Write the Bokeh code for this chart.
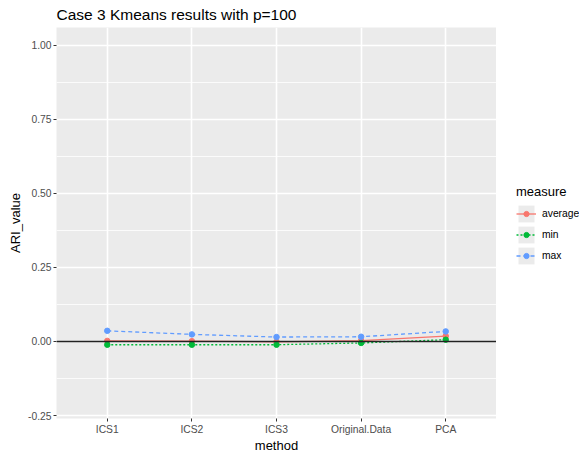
from bokeh.plotting import figure
from bokeh.layouts import row
from bokeh.core.properties import value
from bokeh.models import (FactorRange, Range1d, FixedTicker, NumeralTickFormatter,
                          Span, Legend, LegendItem, ColumnDataSource)
from bokeh.embed import file_html
from bokeh.resources import INLINE

# ARI values per clustering input
methods = ["ICS1", "ICS2", "ICS3", "Original.Data", "PCA"]
ari_average = [0.002, 0.001, -0.001, 0.003, 0.018]
ari_min = [-0.011, -0.011, -0.011, -0.005, 0.006]
ari_max = [0.036, 0.024, 0.015, 0.016, 0.034]
measures = ["average", "min", "max"]
y_ticks = [-0.25, 0.0, 0.25, 0.5, 0.75, 1.0]
y_minor = [-0.125, 0.125, 0.375, 0.625, 0.875]

FONT = "Liberation Sans"
PANEL_BG = "#EBEBEB"

p = figure(width=496, height=455, output_backend="svg", toolbar_location=None,
           x_range=FactorRange(*methods, range_padding=0.1, range_padding_units="absolute"),
           y_range=Range1d(-0.26, 1.06),
           title="Case 3 Kmeans results with p=100",
           min_border_left=56, min_border_right=0, min_border_top=27, min_border_bottom=34)

p.background_fill_color = PANEL_BG
p.border_fill_color = "white"
p.outline_line_color = None

p.title.text_font = FONT
p.title.text_font_size = "15.5px"
p.title.text_font_style = "normal"
p.title.text_color = "black"
p.title.align = "left"
p.title.vertical_align = "top"
p.title.standoff = 6

# grid
p.xgrid.grid_line_color = "white"
p.xgrid.grid_line_width = 1.6
p.ygrid.ticker = FixedTicker(ticks=y_ticks, minor_ticks=y_minor)
p.ygrid.grid_line_color = "white"
p.ygrid.grid_line_width = 1.6
p.ygrid.minor_grid_line_color = "white"
p.ygrid.minor_grid_line_width = 0.8

# axes
p.yaxis.ticker = FixedTicker(ticks=y_ticks)
p.yaxis.formatter = NumeralTickFormatter(format="0.00")
for ax in (p.xaxis[0], p.yaxis[0]):
    ax.axis_line_color = None
    ax.major_tick_line_color = "#333333"
    ax.major_tick_in = 0
    ax.major_tick_out = 3
    ax.minor_tick_line_color = None
    ax.major_label_text_font = FONT
    ax.major_label_text_font_size = "10.3px"
    ax.major_label_text_color = "#4D4D4D"
    ax.major_label_standoff = 2
    ax.axis_label_text_font = FONT
    ax.axis_label_text_font_size = "13px"
    ax.axis_label_text_font_style = "normal"
    ax.axis_label_text_color = "black"
p.xaxis.axis_label = "method"
p.xaxis.axis_label_standoff = 0
p.yaxis.axis_label = "ARI_value"
p.yaxis.axis_label_standoff = 2

# series
colors = {"average": "#F8766D", "min": "#00BA38", "max": "#619CFF"}
dashes = {"average": "solid", "min": "2 2", "max": "4 3"}
values = {"average": ari_average, "min": ari_min, "max": ari_max}

for m in measures:
    src = ColumnDataSource(dict(method=methods, ari=values[m]))
    p.line("method", "ari", source=src, line_color=colors[m], line_width=1.3,
           line_dash=dashes[m])
    p.scatter("method", "ari", source=src, size=5.5, fill_color=colors[m],
              line_color=colors[m])

# reference line at zero
p.add_layout(Span(location=0, dimension="width", line_color="#222222", line_width=1.5))

# legend panel to the right of the plot; key proxies hold a single NaN row
lg = figure(width=83, height=455, output_backend="svg", toolbar_location=None,
            x_axis_type=None, y_axis_type=None, x_range=(0, 1), y_range=(0, 1),
            min_border=0)
lg.outline_line_color = None
lg.grid.visible = False
lg.background_fill_color = "white"
lg.border_fill_color = "white"

nan = float("nan")
key_bg = lg.rect(x=[nan], y=[nan], width=1, height=1, fill_color=PANEL_BG, line_color=None)
bg_items, key_items = [], []
for m in measures:
    ln = lg.line(x=[nan], y=[nan], line_color=colors[m], line_width=1.3, line_dash=dashes[m])
    pt = lg.scatter(x=[nan], y=[nan], size=5.5, fill_color=colors[m], line_color=colors[m])
    bg_items.append(LegendItem(label=value(""), renderers=[key_bg]))
    key_items.append(LegendItem(label=m, renderers=[ln, pt]))

common = dict(label_text_font=FONT, label_text_font_size="10.3px", label_text_color="black",
              label_standoff=6, glyph_width=20, padding=0, margin=0,
              border_line_color=None, background_fill_alpha=0)

# grey key backgrounds with the legend title
bg_legend = Legend(items=bg_items, title="measure", location=(20, 152),
                   title_text_font=FONT, title_text_font_size="13px", title_text_color="black",
                   title_text_font_style="normal", title_standoff=4,
                   glyph_height=21, label_height=21, spacing=0, **common)
# lines, points and labels drawn on top of the backgrounds
key_legend = Legend(items=key_items, location=(20, 156),
                    glyph_height=13, label_height=13, spacing=8, **common)
lg.add_layout(bg_legend)
lg.add_layout(key_legend)

layout = row(p, lg)
open("out.html", "w").write(file_html(layout, INLINE))
